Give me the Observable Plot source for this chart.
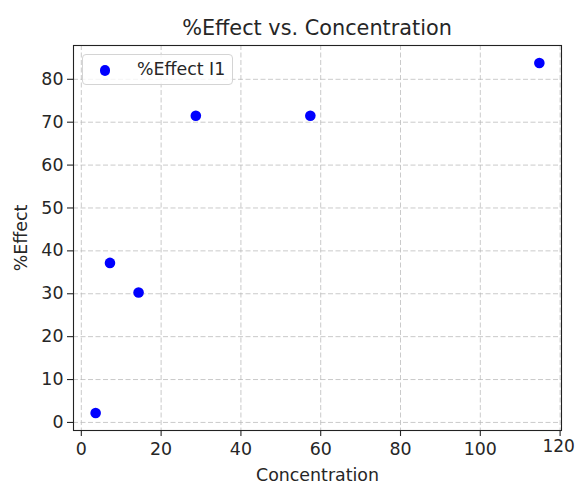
<!DOCTYPE html>
<html>
<head>
<meta charset="utf-8">
<script src="https://cdn.jsdelivr.net/npm/d3@7"></script>
<script src="https://cdn.jsdelivr.net/npm/@observablehq/plot@0.6"></script>
<style>
  html, body { margin: 0; padding: 0; background: white; }
  #wrap { position: relative; width: 575px; height: 483px; font-family: "DejaVu Sans", sans-serif; }
  #title { box-sizing: border-box; height: 40px; padding: 16px 14px 0 73px; text-align: center;
           font-size: 20.8px; line-height: 24px; color: #262626; white-space: nowrap; }
  #legend { position: absolute; left: 82px; top: 54px; width: 151px; height: 31px; box-sizing: border-box;
            border: 1px solid #d4d4d4; border-radius: 4px; background: rgba(255,255,255,0.8);
            font-size: 17.4px; color: #262626; }
  #legend .sw { position: absolute; left: 16.7px; top: 10.4px; width: 10.6px; height: 10.6px; border-radius: 50%; background: blue; }
  #legend .lb { position: absolute; left: 54px; top: 4px; line-height: 20px; white-space: nowrap; }
</style>
</head>
<body>
<div id="wrap">
  <div id="title">%Effect vs. Concentration</div>
  <div id="chart"></div>
  <div id="legend"><span class="sw"></span><span class="lb">%Effect I1</span></div>
</div>
<script>
// Concentration series and measured %Effect
const concentration = [3.59, 7.18, 14.35, 28.7, 57.4, 114.8];
const effect = [2.2, 37.2, 30.3, 71.5, 71.5, 83.8];
const xTicks = [0, 20, 40, 60, 80, 100, 120];
const yTicks = [0, 10, 20, 30, 40, 50, 60, 70, 80];

const data = concentration.map((c, i) => ({c, e: effect[i]}));

const grid = {stroke: "#b8b8b8", strokeOpacity: 0.75, strokeWidth: 1, strokeDasharray: "5,2.5"};
const xTickStyle = {tickSize: 6, tickPadding: 6, strokeWidth: 1.1};

// the last x tick label sits at the page edge, so it is nudged inward slightly
const lastX = xTicks[xTicks.length - 1];

const chart = Plot.plot({
  width: 575,
  height: 443,
  marginTop: 5,
  marginRight: 14,
  marginBottom: 53,
  marginLeft: 73,
  style: {fontFamily: "DejaVu Sans, sans-serif", fontSize: "17.4px", color: "#262626", background: "white"},
  x: {domain: [-1.96, 120.35]},
  y: {domain: [-1.88, 87.88]},
  marks: [
    Plot.gridX(xTicks, grid),
    Plot.gridY(yTicks, grid),
    Plot.axisX(xTicks.slice(0, -1), {...xTickStyle, label: "Concentration", labelAnchor: "center", labelArrow: "none", labelOffset: 50}),
    Plot.axisX([lastX], {...xTickStyle, label: null, text: null}),
    Plot.text([lastX], {x: d => d, frameAnchor: "bottom", dy: 21, dx: -1.5, text: d => `${d}`, fontSize: 17, fill: "#262626"}),
    Plot.axisY(yTicks, {tickSize: 6, tickPadding: 4, strokeWidth: 1.1, label: "%Effect", labelAnchor: "center", labelArrow: "none", labelOffset: 59}),
    Plot.frame({stroke: "#222", strokeWidth: 1.1}),
    Plot.dot(data, {x: "c", y: "e", r: 5.3, fill: "blue", stroke: null})
  ]
});
document.getElementById("chart").append(chart);
</script>
</body>
</html>
